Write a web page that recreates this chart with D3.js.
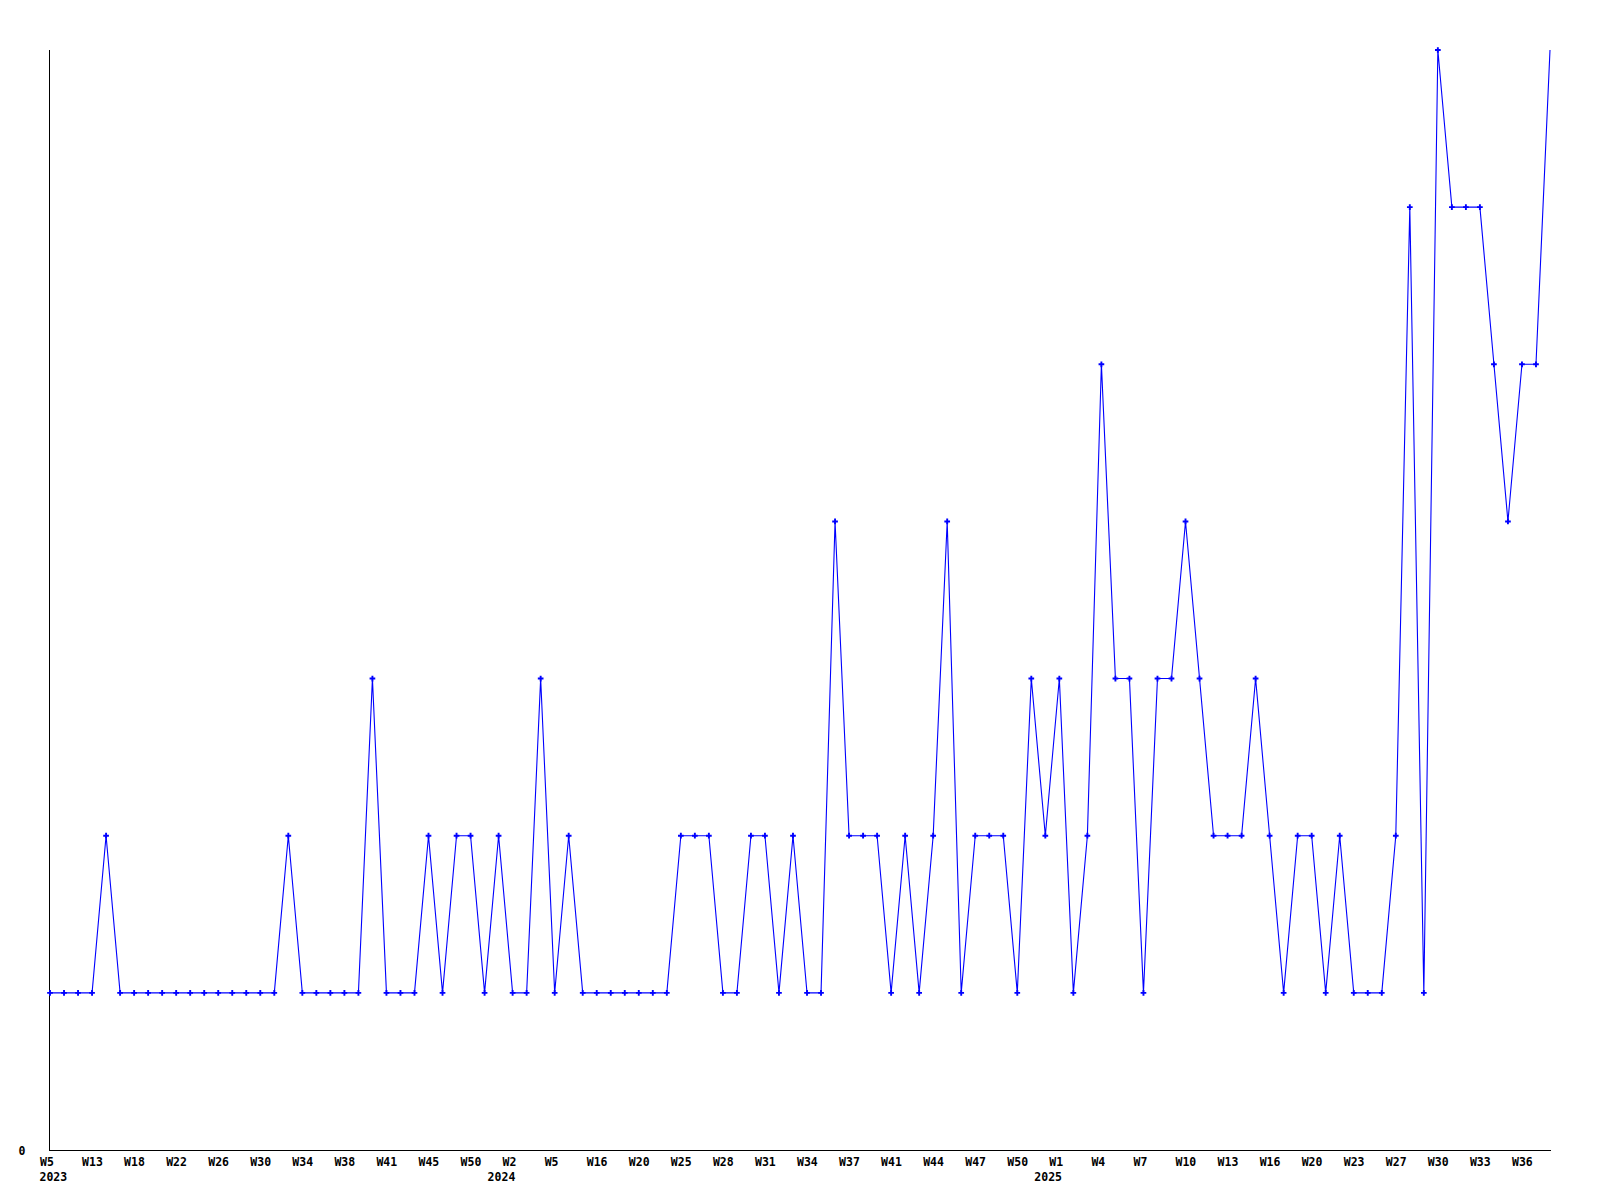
<!DOCTYPE html>
<html>
<head>
<meta charset="utf-8">
<script src="https://cdn.jsdelivr.net/npm/d3@7"></script>
<style>
  html, body { margin: 0; padding: 0; background: #ffffff; }
  svg { display: block; }
  text { font-family: "DejaVu Sans Mono", "Liberation Mono", monospace; font-weight: bold; font-size: 11.5px; fill: #000; }
</style>
</head>
<body>
<svg id="chart" width="1600" height="1200"></svg>
<script>
// Weekly values (one point per reported week, missing weeks skipped)
const values = [
  1,1,1,1,2,1,1,1,1,1,1,1,1,1,1,1,1,2,1,1,
  1,1,1,3,1,1,1,2,1,2,2,1,2,1,1,3,1,2,1,1,
  1,1,1,1,1,2,2,2,1,1,2,2,1,2,1,1,4,2,2,2,
  1,2,1,2,4,1,2,2,2,1,3,2,3,1,2,5,3,3,1,3,
  3,4,3,2,2,2,3,2,1,2,2,1,2,1,1,1,2,6,1,7,
  6,6,6,5,4,5,5,7
];
// Tick labels, one every third point
const weekTicks = [
  "W5","W13","W18","W22","W26","W30","W34","W38","W41","W45","W50","W2",
  "W5","W16","W20","W25","W28","W31","W34","W37","W41","W44","W47","W50",
  "W1","W4","W7","W10","W13","W16","W20","W23","W27","W30","W33","W36"
];
const tickStep = 3;
// Year labels and the tick (index in weekTicks) they sit under
const yearLabels = ["2023","2024","2025"];
const yearTickIndex = [0, 11, 24];
const yTicks = [0];

const svg = d3.select("#chart");
const margin = {left: 50, right: 50, top: 50, bottom: 50};
const W = 1600, H = 1200;

const x = d3.scalePoint()
  .domain(d3.range(values.length))
  .range([margin.left, W - margin.right]);
const y = d3.scaleLinear()
  .domain([0, 7])
  .range([H - margin.bottom, margin.top]);

// Axes
const xAxis = d3.axisBottom(x)
  .tickValues(d3.range(0, values.length, tickStep).filter((d, i) => i < weekTicks.length))
  .tickFormat(d => weekTicks[d / tickStep])
  .tickSize(0)
  .tickPadding(0);
const gx = svg.append("g")
  .attr("transform", `translate(0,${y(0)})`)
  .call(xAxis);
gx.select(".domain").attr("stroke", "#000").attr("stroke-width", 1).attr("shape-rendering", "crispEdges")
  .attr("d", `M${x(0)},0.5H${W - margin.right + 1}`);
gx.selectAll(".tick text")
  .attr("text-anchor", "start")
  .attr("dx", -10.5)
  .attr("y", 12)
  .attr("dy", "0.35em")
  .style("font-family", "\"DejaVu Sans Mono\", monospace")
  .style("font-size", "11.5px")
  .style("font-weight", "bold")
  .attr("fill", "#000");

const yAxis = d3.axisLeft(y).tickValues(yTicks).tickSize(0).tickPadding(0).tickFormat(d3.format("d"));
const gy = svg.append("g")
  .attr("transform", `translate(${x(0)},0)`)
  .call(yAxis);
gy.select(".domain").attr("stroke", "#000").attr("stroke-width", 1).attr("shape-rendering", "crispEdges")
  .attr("d", `M-0.5,${y(7)}V${y(0) + 1}`);
gy.selectAll(".tick text")
  .attr("text-anchor", "middle")
  .attr("x", -28)
  .attr("dy", "0.35em")
  .style("font-family", "\"DejaVu Sans Mono\", monospace")
  .style("font-size", "11.5px")
  .style("font-weight", "bold")
  .attr("fill", "#000");

// Year labels
svg.append("g").selectAll("text")
  .data(yearLabels)
  .join("text")
  .attr("x", (d, i) => Math.max(x(yearTickIndex[i] * tickStep) - 25, x(0) - 10.5))
  .attr("y", y(0) + 26.5)
  .attr("dy", "0.35em")
  .attr("text-anchor", "start")
  .text(d => d);

// Line
const line = d3.line()
  .x((d, i) => x(i))
  .y(d => y(d));
svg.append("path")
  .datum(values)
  .attr("fill", "none")
  .attr("stroke", "#0000ff")
  .attr("stroke-width", 1.1)
  .attr("d", line);

// Markers (last, partial week has none)
svg.append("g").selectAll("path")
  .data(values.slice(0, values.length - 1))
  .join("path")
  .attr("transform", (d, i) => `translate(${x(i)},${y(d)})`)
  .attr("d", d3.symbol().type(d3.symbolCross).size(18))
  .attr("fill", "#0000ff");
</script>
</body>
</html>
